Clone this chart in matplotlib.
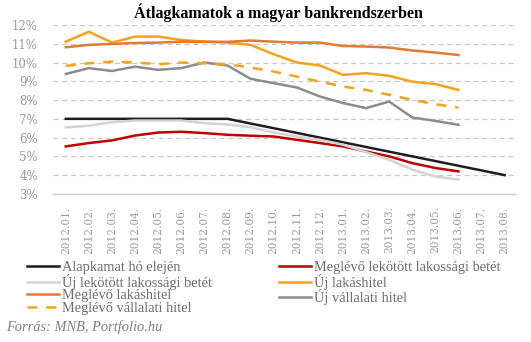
import numpy as np
import matplotlib
matplotlib.use('Agg')
import matplotlib.pyplot as plt

# Havi adatok, 2012.01. - 2013.08.
months = ['2012.01.', '2012.02.', '2012.03.', '2012.04.', '2012.05.', '2012.06.',
          '2012.07.', '2012.08.', '2012.09.', '2012.10.', '2012.11.', '2012.12.',
          '2013.01.', '2013.02.', '2013.03.', '2013.04.', '2013.05.', '2013.06.',
          '2013.07.', '2013.08.']

alapkamat = [7.0, 7.0, 7.0, 7.0, 7.0, 7.0, 7.0, 7.0, 6.75, 6.5, 6.25, 6.0,
             5.75, 5.5, 5.25, 5.0, 4.75, 4.5, 4.25, 4.0]
meglevo_betet = [5.53, 5.71, 5.85, 6.11, 6.27, 6.31, 6.24, 6.15, 6.1, 6.06, 5.88, 5.71,
                 5.53, 5.26, 5.0, 4.64, 4.38, 4.2]
uj_betet = [6.54, 6.63, 6.82, 6.91, 6.91, 6.91, 6.77, 6.7, 6.55, 6.27, 6.06, 5.88,
            5.62, 5.23, 4.82, 4.29, 3.93, 3.76]
uj_lakashitel = [11.11, 11.64, 11.06, 11.38, 11.38, 11.2, 11.11, 11.06, 10.94, 10.44,
                 10.0, 9.84, 9.34, 9.43, 9.29, 8.98, 8.85, 8.54]
meglevo_lakashitel = [10.81, 10.94, 10.99, 11.04, 11.06, 11.11, 11.11, 11.1, 11.17, 11.11,
                      11.06, 11.06, 10.88, 10.85, 10.8, 10.64, 10.53, 10.4]
meglevo_vallalati = [9.82, 9.96, 10.05, 10.0, 9.91, 10.0, 9.96, 9.91, 9.73, 9.52,
                     9.25, 8.98, 8.72, 8.54, 8.28, 8.01, 7.78, 7.6]
uj_vallalati = [9.39, 9.7, 9.55, 9.78, 9.61, 9.7, 10.0, 9.84, 9.13, 8.9,
                8.67, 8.19, 7.84, 7.57, 7.92, 7.07, 6.89, 6.68]

yticks = [3, 4, 5, 6, 7, 8, 9, 10, 11, 12]

fig = plt.figure(figsize=(5.31, 3.42), dpi=100)
ax = fig.add_axes([0.1, 0.433, 0.87, 0.494])

lw = 1.8
x_full = np.arange(len(alapkamat))
x_short = np.arange(len(meglevo_betet))

l1, = ax.plot(x_full, alapkamat, color='#231a20', lw=lw)
l2, = ax.plot(x_short, meglevo_betet, color='#c00000', lw=lw)
l3, = ax.plot(x_short, uj_betet, color='#d3d3d3', lw=lw)
l4, = ax.plot(x_short, uj_lakashitel, color='#f7a21b', lw=lw)
l5, = ax.plot(x_short, meglevo_lakashitel, color='#e07b34', lw=lw)
l6, = ax.plot(x_short, uj_vallalati, color='#8c8c8c', lw=lw)
l7, = ax.plot(x_short, meglevo_vallalati, color='#f7a21b', lw=lw, dashes=(4, 3.5))

ax.set_xlim(-0.55, 19.45)
ax.set_ylim(3, 12)
ax.set_yticks(yticks)
ax.set_yticklabels([f'{t}%' for t in yticks], family='DejaVu Serif', fontsize=8.5, color='#9a9a9a')
ax.set_xticks(x_full)
ax.set_xticklabels(months, rotation=90, family='DejaVu Serif', fontsize=7.6, color='#9a9a9a')
ax.tick_params(axis='both', length=0)
ax.tick_params(axis='y', pad=11)
ax.tick_params(axis='x', pad=9)

for t in yticks[1:]:
    ax.axhline(t, color='#c8c8c8', lw=0.9, dashes=(4, 3), zorder=0)
for s in ['top', 'right', 'left']:
    ax.spines[s].set_visible(False)
ax.spines['bottom'].set_color('#c8c8c8')
ax.spines['bottom'].set_linewidth(1.0)

fig.text(0.524, 0.963, 'Átlagkamatok a magyar bankrendszerben', ha='center', va='center',
         family='Liberation Serif', weight='bold', fontsize=11.5)

handles = [l1, l3, l5, l7, l2, l4, l6]
labels = ['Alapkamat hó elején', 'Új lekötött lakossági betét', 'Meglévő lakáshitel',
          'Meglévő vállalati hitel', 'Meglévő lekötött lakossági betét', 'Új lakáshitel',
          'Új vállalati hitel']
leg = fig.legend(handles, labels, ncol=2, loc='upper left', bbox_to_anchor=(0.051, 0.237),
                 frameon=False, prop={'family': 'Liberation Serif', 'size': 10.4},
                 handlelength=2.2, handletextpad=0.2, labelspacing=-0.03,
                 columnspacing=4.65, borderpad=0, borderaxespad=0)
for t in leg.get_texts():
    t.set_color('#6e6e6e')

fig.text(0.012, 0.044, 'Forrás: MNB, Portfolio.hu', family='Liberation Serif', style='italic',
         fontsize=10.4, color='#7f7f7f', va='center')

fig.savefig('out.png', dpi=100)
